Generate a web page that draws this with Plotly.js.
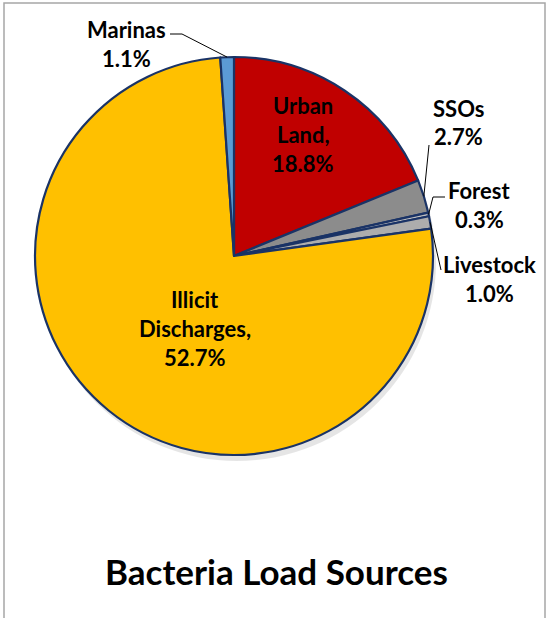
<!DOCTYPE html>
<html>
<head>
<meta charset="utf-8">
<script src="https://cdn.plot.ly/plotly-3.0.1.min.js"></script>
<style>html,body{margin:0;padding:0;background:#fff;}#chart{width:548px;height:618px;}</style>
</head>
<body>
<div id="chart"></div>
<script>
// ---- data ----
const categories = ['Urban Land', 'SSOs', 'Forest', 'Livestock', 'Illicit Discharges', 'Marinas'];
// slice shares as drawn in the picture (angular size of each wedge)
const sliceShares = [18.8, 2.7, 0.3, 1.0, 76.1, 1.1];
// percentages printed on the labels
const labelPercents = ['18.8%', '2.7%', '0.3%', '1.0%', '52.7%', '1.1%'];
const labelNames = [['Urban', 'Land,'], ['SSOs'], ['Forest'], ['Livestock'], ['Illicit', 'Discharges,'], ['Marinas']];
const colors = ['#C00000', '#8C8C8C', '#BFBFBF', '#ADADAD', '#FFC000', '#5B9BD5'];
const chartTitle = 'Bacteria Load Sources';

// ---- layout constants (pixels) ----
const W = 548, H = 618;
const CX = 234, CY = 256, R = 199;
const FONT = 'Lato, Carlito, Calibri, sans-serif';
const LINE = 29;
// label anchor: centre of first line
const labelPos = [
  {x: 303, y: 105}, {x: 458, y: 108}, {x: 479, y: 190}, {x: 489, y: 264},
  {x: 195, y: 299}, {x: 126, y: 29}
];
// leader lines: start points (near the label); end is on the pie rim
const leaders = {
  1: [[429, 145]],
  2: [[445, 197], [433, 197]],
  3: [[441, 270]],
  5: [[170, 34], [182, 34]]
};

const px = x => x / W;
const py = y => 1 - y / H;

const traces = [
  { // soft shadow
    type: 'pie', values: [1], labels: ['shadow'], sort: false,
    marker: {colors: ['rgba(0,0,0,0.10)'], line: {width: 0}},
    textinfo: 'none', hoverinfo: 'skip', showlegend: false,
    domain: {x: [px(CX - R + 3), px(CX + R + 3)], y: [py(CY + R + 6), py(CY - R + 6)]}
  },
  {
    type: 'pie', values: sliceShares, labels: categories, sort: false,
    direction: 'clockwise', rotation: 0,
    marker: {colors: colors, line: {color: '#1A3366', width: 2.2}},
    textinfo: 'none', hoverinfo: 'label', showlegend: false,
    domain: {x: [px(CX - R), px(CX + R)], y: [py(CY + R), py(CY - R)]}
  }
];

const annotations = [];
labelNames.forEach((lines, i) => {
  const all = lines.concat([labelPercents[i]]);
  all.forEach((t, k) => {
    annotations.push({
      text: t, showarrow: false, xref: 'paper', yref: 'paper',
      x: px(labelPos[i].x), y: py(labelPos[i].y + k * LINE),
      xanchor: 'center', yanchor: 'middle',
      font: {family: FONT, size: 22, color: '#000', weight: 'bold'}
    });
  });
});
annotations.push({
  text: '<b>' + chartTitle + '</b>', showarrow: false, xref: 'paper', yref: 'paper',
  x: px(276), y: py(571), xanchor: 'center', yanchor: 'middle',
  font: {family: FONT, size: 35, color: '#000'}
});

// leader lines ending at the rim, at the middle angle of each wedge
const total = sliceShares.reduce((a, b) => a + b, 0);
const shapes = [];
let cum = 0;
const mids = sliceShares.map(v => { const m = (cum + v / 2) / total; cum += v; return m * 2 * Math.PI; });
Object.keys(leaders).forEach(key => {
  const i = +key;
  const pts = leaders[i].slice();
  pts.push([CX + R * Math.sin(mids[i]), CY - R * Math.cos(mids[i])]);
  let d = '';
  pts.forEach((p, k) => { d += (k ? ' L ' : 'M ') + px(p[0]) + ',' + py(p[1]); });
  shapes.push({type: 'path', xref: 'paper', yref: 'paper', path: d,
    line: {color: '#000', width: 1}});
});
// chart frame
shapes.push({type: 'rect', xref: 'paper', yref: 'paper',
  x0: px(4), x1: px(545), y0: py(640), y1: py(3),
  line: {color: '#A6A6A6', width: 1.5}});

Plotly.newPlot('chart', traces, {
  width: W, height: H,
  margin: {l: 0, r: 0, t: 0, b: 0},
  paper_bgcolor: '#fff', plot_bgcolor: '#fff',
  showlegend: false,
  annotations: annotations,
  shapes: shapes
}, {displayModeBar: false, staticPlot: true});
</script>
</body>
</html>
